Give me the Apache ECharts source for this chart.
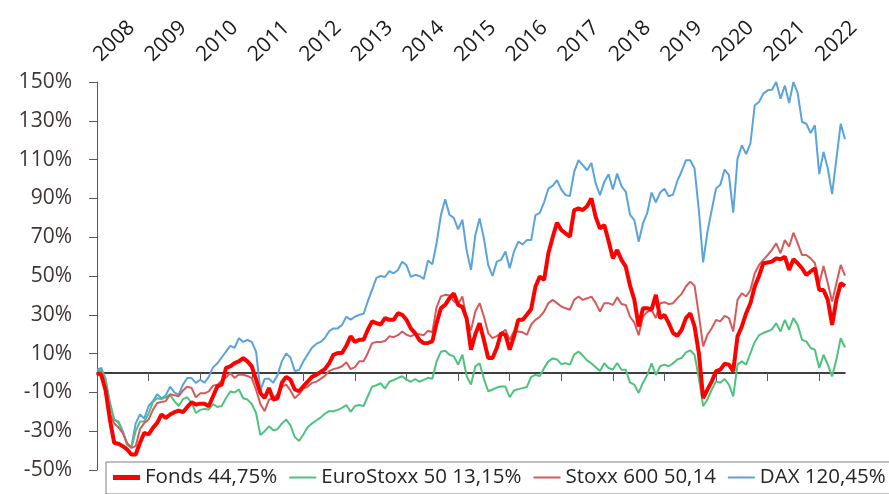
<!DOCTYPE html>
<html>
<head>
<meta charset="utf-8" />
<title>Fonds</title>
<script type="text/javascript" src="https://cdn.jsdelivr.net/npm/echarts@6/dist/echarts.min.js"></script>
<style>
  html, body { margin: 0; padding: 0; background: #fff; }
  #main { width: 889px; height: 494px; }
</style>
</head>
<body>
<div id="main"></div>
<script type="text/javascript">
// jahre oben an der achse
var years = ['2008', '2009', '2010', '2011', '2012', '2013', '2014', '2015',
             '2016', '2017', '2018', '2019', '2020', '2021', '2022'];

// monatswerte in %
var fonds = [
  0, -1, -9, -24, -36, -36.5, -37.7, -39.4, -42, -42, -36, -30.8,
  -31.7, -28.3, -25.7, -21.4, -23.1, -21.4, -20.2, -19.4, -20.2, -17.5, -15.1, -16.3,
  -15.8, -15.9, -17.1, -12, -6.9, -6, 2.6, 3.4, 5.1, 6, 7.7, 6,
  3.4, -3.4, -10.3, -12.9, -7.7, -13.7, -13, -5, -2, -3.4, -8.5, -9.4,
  -6.9, -4.5, -2, -1, 0.5, 2, 5, 9.4, 10.3, 10.3, 14, 18.9,
  16, 17.1, 17.1, 22.3, 26.6, 25.7, 25, 28.3, 27.4, 27.4, 30.8, 30,
  27.4, 23, 20.6, 17, 15.4, 15.5, 16.3, 25.7, 33.4, 35.1, 38.6, 41,
  35.1, 34, 28, 12, 20, 25.7, 17, 7.7, 7.7, 12.9, 20.6, 19.7,
  12, 18.9, 27.4, 27.4, 30, 33, 44.6, 49.7, 48, 61.7, 70, 77.5,
  73.7, 72, 70.3, 84, 84.8, 84, 86, 90, 80.5, 74.5, 76.3, 68,
  59.1, 63.4, 58.3, 54.8, 45, 37.7, 24, 33.4, 33.4, 32.6, 40.3, 28.3,
  30, 25.7, 20.6, 19.2, 22.3, 28.3, 30.8, 24, 10.3, -12.9, -8.6, -4.3,
  0.9, 1.7, 4.8, 4.3, 0.9, 18.9, 24, 30.8, 36, 44.6, 50, 56.6,
  57, 57.4, 59.1, 58.6, 60, 53.1, 58.6, 56.6, 54, 50.6, 52.3, 54,
  42.8, 42.8, 37.7, 24.8, 37.7, 46.3, 44.75
];
var euroStoxx = [
  0.9, 1.7, -4, -17, -24, -25.7, -30, -37, -38.5, -30, -25, -25,
  -21, -15, -13, -13.5, -12.5, -11.3, -14.5, -17, -13.5, -12.5, -15.4, -20.6,
  -19, -18.5, -18.8, -16, -17.5, -17, -13, -9.5, -10, -8.5, -13, -13.7,
  -16, -20.6, -32, -30, -27.5, -29.5, -29, -26, -24, -27, -33, -35,
  -31.7, -28, -26, -24.5, -23, -21, -19.7, -19.7, -19, -18, -16.5, -20,
  -17, -16.5, -17, -12, -7, -6.3, -5.3, -8, -4.5, -3.6, -2.6, -1.7,
  -3.4, -4.5, -3.1, -4.5, -3.5, -2.5, -3, 6, 11, 11.5, 9.4, 8.6,
  4.3, 9.4, -1.7, -6, 3.4, 5, -3, -9.4, -8.5, -7.5, -7, -7,
  -12.5, -9, -8.3, -7.8, -7.2, -2, -1, -1.5, 2.5, 6, 7.5, 7,
  4.6, 5, 4.3, 9.5, 11.1, 9, 6.5, 5, 3, 1, 5, 2.6,
  1.8, 5.1, 1.7, 1.7, -5, -6, -10.3, -5, -1, 5, -1, 3.5,
  4.3, 3.5, 5, 7, 7.7, 10.6, 11.7, 9.4, -2.6, -17.1, -13.7, -8.6,
  -4.3, -5, -3.1, -6, -12, 4.3, 6, 4.3, 10.3, 16, 19.5, 20.6,
  21.5, 22.5, 25.7, 21.4, 27.4, 22.3, 28.3, 24.8, 17.1, 16.3, 12.9, 12,
  2.6, 9.4, 4.3, -1.7, 6.9, 18, 13.15
];
var stoxx600 = [
  0, 0.5, -10, -21, -26, -28, -31, -36, -38.6, -37.7, -29, -25.7,
  -24, -19, -15.5, -15, -14.5, -11, -11.5, -12, -9, -7, -7.7, -12.5,
  -10.5, -10.5, -9.5, -6.5, -6, -4, -2.3, 0, -2.5, -0.8, -0.9, -1.5,
  -2.6, -8.6, -16, -19.7, -13.7, -12.9, -11, -7, -6, -9, -13, -11,
  -8, -7, -5.1, -4.5, -3, -1.5, 1, 2, 2.6, 3.5, 5.5, 2,
  3, 6, 6, 10.3, 15.4, 16, 16, 16.5, 18.9, 18.5, 19.5, 21.4,
  19.7, 18.9, 20, 20, 19.5, 21.8, 21, 34, 39.5, 40.3, 40, 37,
  35.5, 39.5, 27.4, 22, 31.7, 36, 29.1, 20.6, 18, 19, 20.5, 22.3,
  17.1, 21.4, 21.4, 21, 19.7, 25, 27.4, 29, 31.7, 36, 37.7, 36,
  34.3, 33.4, 32.6, 37.7, 39.4, 37.7, 38.5, 39.4, 36, 31.7, 36, 36,
  35.1, 39.1, 35.6, 35.1, 29, 26, 19.5, 29, 31.5, 32.6, 28.3, 36,
  36.5, 35.5, 36, 38.6, 40.8, 44.6, 47.1, 45, 30, 13.7, 19.7, 23.1,
  27.4, 26.6, 29.5, 28.3, 21.4, 37.7, 41.1, 39.4, 42.8, 51.4, 55.7, 58.3,
  60.8, 63.5, 66.8, 61.7, 68.5, 65.1, 72.3, 66.8, 60.8, 60.8, 59.1, 56.6,
  46, 55.2, 46.3, 36.8, 46.3, 55.7, 50.14
];
var dax = [
  1.7, 2.6, -3, -15, -24, -25, -30, -37, -38, -26, -21.4, -23.5,
  -17, -14.5, -11, -13, -11.5, -7, -10, -11.1, -6, -2.6, -2.6, -5.1,
  -3.5, -5, -2, 3, 5, 8, 11, 14, 13, 18, 16, 17,
  16, 11, -9, -3, -3, -5, -1, 6, 10, 8, 1, 1.5,
  6, 9.5, 13, 15, 16, 18, 21.5, 23, 23, 24.8, 29, 27.5,
  29, 30, 30.5, 37, 43, 49, 50, 49.5, 52.5, 51.4, 53.1, 57.4,
  55.5, 49.5, 50.6, 50, 48.5, 58, 56, 67, 81.4, 89.5, 81.5, 80,
  74, 79, 63, 53.1, 71, 79.7, 69.4, 55.7, 50, 57.4, 58.3, 62.6,
  54, 62.6, 67.7, 66.3, 68.5, 68.5, 81.4, 82.6, 88, 95, 96.5, 99.4,
  94.6, 91.7, 91.2, 103.7, 109.7, 107.1, 104.5, 108.3, 97.7, 91.7, 98.5, 102.5,
  94.6, 102.8, 96.3, 93.4, 81.5, 78.8, 67.7, 77.1, 82.5, 93, 88, 93,
  95, 91, 92, 99, 104, 109.7, 109.7, 105.4, 84, 57, 72.8, 84,
  95.1, 97, 104.9, 102, 82.6, 110.5, 117.4, 112.8, 118.3, 138, 139.7, 144,
  145.7, 146, 150, 141.4, 148.2, 139.2, 150, 144.3, 129.4, 128.5, 123.7, 127.7,
  102.5, 114, 105.4, 92.2, 110.5, 128.5, 120.45
];

var seriesNames = ['Fonds 44,75%', 'EuroStoxx 50 13,15%', 'Stoxx 600 50,14', 'DAX 120,45%'];
var seriesColors = ['#ff0000', '#4fc27f', '#d55a5a', '#5ba3db'];

// monatskategorien aus den jahren
var months = [];
years.forEach(function (y) {
    for (var m = 1; m <= 12; m++) {
        if (months.length < fonds.length) {
            months.push(y + '-' + (m < 10 ? '0' + m : m));
        }
    }
});

var font = 'Open Sans';
var thinLine = 'path://M0,0H27V2H0Z';
var thickLine = 'path://M0,0H27V5H0Z';

var myChart = echarts.init(document.getElementById('main'));

myChart.setOption({
    animation: false,
    grid: {
        left: 97,
        right: 44,
        top: 82,
        bottom: 24
    },
    legend: {
        data: [
            { name: seriesNames[0], icon: thickLine },
            { name: seriesNames[1], icon: thinLine },
            { name: seriesNames[2], icon: thinLine },
            { name: seriesNames[3], icon: thinLine }
        ],
        left: 106,
        top: 462,
        width: 820,
        itemWidth: 27,
        itemHeight: 14,
        itemGap: 12,
        padding: [5, 8, 6, 7],
        backgroundColor: '#fff',
        borderColor: '#808080',
        borderWidth: 1,
        textStyle: { fontFamily: font, fontSize: 20.5, color: '#262626' }
    },
    xAxis: [
        {
            type: 'category',
            data: months,
            boundaryGap: false,
            axisLine: { onZero: true, lineStyle: { color: '#000', width: 1.5 } },
            axisTick: {
                interval: function (i) { return i % 12 === 0; },
                length: 8,
                lineStyle: { color: '#595959' }
            },
            axisLabel: { show: false },
            splitLine: { show: false }
        },
        {
            type: 'category',
            position: 'top',
            data: months,
            boundaryGap: false,
            axisLine: { show: false, onZero: false },
            axisTick: { show: false },
            axisLabel: {
                interval: function (i) { return i % 12 === 0; },
                formatter: function (v) { return v.slice(0, 4); },
                rotate: -44,
                margin: 24,
                fontFamily: font,
                fontSize: 21,
                color: '#1a1a1a'
            },
            splitLine: { show: false }
        }
    ],
    yAxis: {
        type: 'value',
        min: -50,
        max: 150,
        interval: 20,
        axisLine: { show: true, lineStyle: { color: '#595959' } },
        axisTick: { show: true, length: 8, lineStyle: { color: '#595959' } },
        splitLine: { show: false },
        axisLabel: {
            formatter: '{value}%',
            margin: 25,
            fontFamily: font,
            fontSize: 21,
            color: '#403535'
        }
    },
    series: [
        {
            name: seriesNames[0], type: 'line', data: fonds, symbol: 'none', z: 6,
            itemStyle: { color: seriesColors[0] },
            lineStyle: { color: seriesColors[0], width: 4 }
        },
        {
            name: seriesNames[1], type: 'line', data: euroStoxx, symbol: 'none', z: 3,
            itemStyle: { color: seriesColors[1] },
            lineStyle: { color: seriesColors[1], width: 2 }
        },
        {
            name: seriesNames[2], type: 'line', data: stoxx600, symbol: 'none', z: 4,
            itemStyle: { color: seriesColors[2] },
            lineStyle: { color: seriesColors[2], width: 2 }
        },
        {
            name: seriesNames[3], type: 'line', data: dax, symbol: 'none', z: 2,
            itemStyle: { color: seriesColors[3] },
            lineStyle: { color: seriesColors[3], width: 2 }
        }
    ]
});
</script>
</body>
</html>
